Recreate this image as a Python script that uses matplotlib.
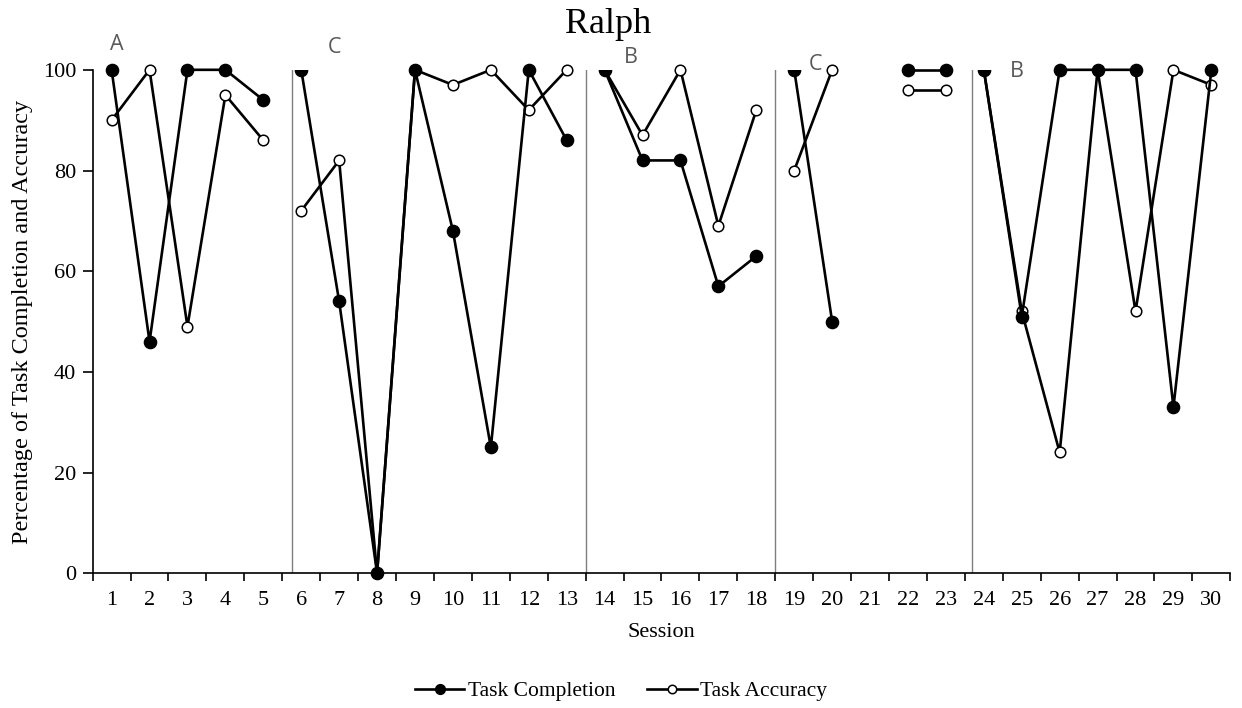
import numpy as np
import matplotlib
matplotlib.use("Agg")
import matplotlib.pyplot as plt
from matplotlib.patches import Rectangle

plt.rcParams['font.family'] = ['Liberation Serif', 'DejaVu Serif']

# data (session 21 has no data)
sessions = list(range(1, 31))
completion = [100, 46, 100, 100, 94,
              100, 54, 0, 100, 68, 25, 100, 86,
              100, 82, 82, 57, 63,
              100, 50, np.nan, 100, 100,
              100, 51, 100, 100, 100, 33, 100]
accuracy = [90, 100, 49, 95, 86,
            72, 82, 0, 100, 97, 100, 92, 100,
            100, 87, 100, 69, 92,
            80, 100, np.nan, 96, 96,
            100, 52, 24, 100, 52, 100, 97]

# connected runs of sessions (lines break at phase changes)
segments = [(1, 5), (6, 13), (14, 18), (19, 20), (22, 23), (24, 30)]
phase_lines = [5.75, 13.5, 18.5, 23.7]
phase_names = ["A", "C", "B", "C", "B"]
phase_label_x = [1.14, 6.89, 14.7, 19.55, 24.88]
phase_label_y = [105.1, 104.5, 102.4, 101.1, 99.6]
# first points of a phase whose top half is hidden behind the label box
covered = [6, 14, 19, 24]
cover_right = [7.2, 15.0, 19.75, 25.2]

fig = plt.figure(figsize=(12.42, 7.08), dpi=100)
ax = fig.add_axes([0.0746, 0.1903, 0.9160, 0.7111])

x = np.array(sessions)
comp = np.array(completion, dtype=float)
acc = np.array(accuracy, dtype=float)

for i, (a, b) in enumerate(segments):
    m = (x >= a) & (x <= b)
    ax.plot(x[m], acc[m], color='black', lw=1.9, marker='o', ms=7.6,
            mfc='white', mec='black', mew=1.1, clip_on=False, zorder=3,
            label='Task Accuracy' if i == 0 else None)
    ax.plot(x[m], comp[m], color='black', lw=1.9, marker='o', ms=8.8,
            mfc='black', mec='black', clip_on=False, zorder=3.5,
            label='Task Completion' if i == 0 else None)

for px in phase_lines:
    ax.axvline(px, ymin=0, ymax=1, color='#7f7f7f', lw=1.0, zorder=2)

for s, r in zip(covered, cover_right):
    ax.add_patch(Rectangle((s - 0.3, 100), r - (s - 0.3), 7, facecolor='white',
                           edgecolor='none', zorder=4, clip_on=False))

for name, lx, ly in zip(phase_names, phase_label_x, phase_label_y):
    ax.text(lx, ly, name, ha='center', va='center', fontsize=15.5,
            color='#595959', family=['Open Sans', 'DejaVu Sans'], zorder=5)

ax.set_xlim(0.5, 30.5)
ax.set_ylim(0, 100)
ax.set_yticks(range(0, 101, 20))
ax.set_xticks(sessions)
ax.set_xticks(np.arange(0.5, 31, 1), minor=True)
ax.tick_params(axis='x', which='major', length=0, pad=13, labelsize=16)
ax.tick_params(axis='x', which='minor', length=6, width=1.2, direction='out')
ax.tick_params(axis='y', length=7, width=1.2, pad=5, labelsize=16)

for side in ['top', 'right']:
    ax.spines[side].set_visible(False)
for side in ['left', 'bottom']:
    ax.spines[side].set_linewidth(1.2)

ax.set_xlabel('Session', fontsize=16, labelpad=9)
ax.set_ylabel('Percentage of Task Completion and Accuracy', fontsize=17.5, labelpad=7)
fig.text(0.4895, 0.965, 'Ralph', ha='center', va='center', fontsize=26)

handles, labels = ax.get_legend_handles_labels()
order = [labels.index('Task Completion'), labels.index('Task Accuracy')]
fig.legend([handles[k] for k in order], [labels[k] for k in order],
           loc='center', bbox_to_anchor=(0.5, 0.024), ncol=2, frameon=False,
           fontsize=15.5, handlelength=2.3, handletextpad=0.15,
           columnspacing=1.5, markerscale=0.8)

fig.savefig('out.png', dpi=100)
